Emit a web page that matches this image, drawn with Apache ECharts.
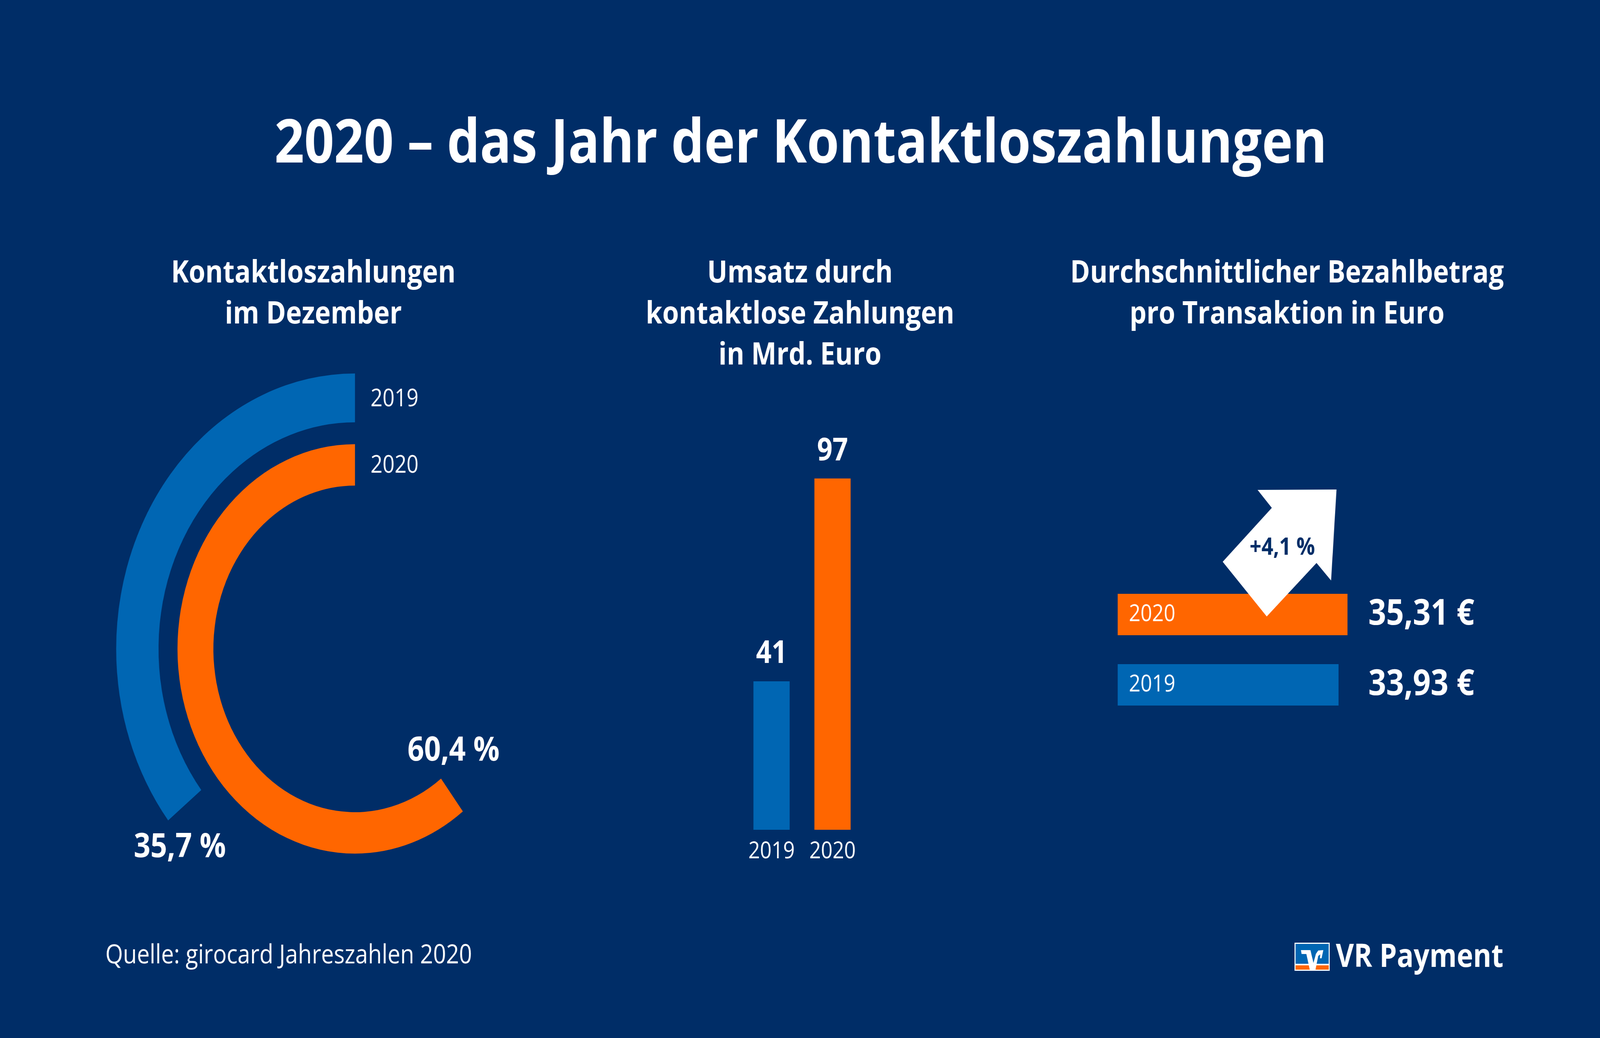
<!DOCTYPE html>
<html>
<head>
<meta charset="utf-8">
<script src="https://cdn.jsdelivr.net/npm/echarts@6/dist/echarts.min.js"></script>
<style>
html,body{margin:0;padding:0;background:#002d67;overflow:hidden;width:100%;height:100%;}
#c{width:4724px;height:2657px;transform-origin:0 0;}
</style>
</head>
<body>
<div id="c"></div>
<script>
// ---- data ----
const years = ['2019', '2020'];
const contactlessShare = [35.7, 60.4];      // % Kontaktloszahlungen im Dezember
const revenue = [41, 97];                   // Umsatz in Mrd. Euro
const avgAmount = [33.93, 35.31];           // Durchschnittlicher Betrag in Euro
const changePct = 4.1;                      // Veränderung in %

// ---- styles ----
const NAVY = '#002d67', BLUE = '#0066b3', ORANGE = '#ff6600', WHITE = '#ffffff';
const FONT = 'Open Sans';
const de = (v, d) => v.toFixed(d).replace('.', ',');
const yearColor = [BLUE, ORANGE];

// fit the 4724x2657 design into whatever viewport the browser gives
const el = document.getElementById('c');
el.style.transform = 'scale(' + (window.innerWidth / 4724) + ',' + (window.innerHeight / 2657) + ')';
const chart = echarts.init(el);

function txt(text, x, y, size, weight, align, fill) {
  return {
    type: 'text', z: 100, silent: true,
    style: {
      text: text, x: x, y: y, fill: fill || WHITE,
      fontFamily: FONT, fontSize: size, fontWeight: weight,
      textAlign: align, align: align,
      textVerticalAlign: 'middle', verticalAlign: 'middle',
      lineHeight: 105
    }
  };
}

const option = {
  backgroundColor: NAVY,
  animation: false,
  polar: [
    { center: [1048, 1661], radius: [580, 705] },
    { center: [1048, 1661], radius: [418, 524] }
  ],
  angleAxis: [
    { polarIndex: 0, min: 0, max: 100, startAngle: 90, clockwise: false, show: false },
    { polarIndex: 1, min: 0, max: 100, startAngle: 90, clockwise: false, show: false }
  ],
  radiusAxis: [
    { polarIndex: 0, type: 'category', data: [years[0]], show: false },
    { polarIndex: 1, type: 'category', data: [years[1]], show: false }
  ],
  grid: [
    { left: 2188, top: 1197, width: 360, height: 927 },
    { left: 3300, top: 1483, width: 711, height: 360 }
  ],
  xAxis: [
    { gridIndex: 0, type: 'category', data: years,
      axisLine: { show: false }, axisTick: { show: false }, splitLine: { show: false },
      axisLabel: { color: WHITE, fontFamily: FONT, fontSize: 60, margin: 26 } },
    { gridIndex: 1, type: 'value', min: 0, max: 37, show: false, splitLine: { show: false } }
  ],
  yAxis: [
    { gridIndex: 0, type: 'value', min: 0, max: 100, show: false, splitLine: { show: false } },
    { gridIndex: 1, type: 'category', data: years, show: false },
    { gridIndex: 1, type: 'category', position: 'right',
      data: avgAmount.map(v => de(v, 2) + ' €'),
      axisLine: { show: false }, axisTick: { show: false }, splitLine: { show: false },
      axisLabel: { color: WHITE, fontFamily: FONT, fontSize: 92, fontWeight: 'bold',
                   margin: 29, align: 'left', padding: [16, 0, 0, 0] } }
  ],
  series: [
    { type: 'bar', coordinateSystem: 'polar', polarIndex: 0, barWidth: '100%', silent: true,
      data: [contactlessShare[0]], itemStyle: { color: BLUE } },
    { type: 'bar', coordinateSystem: 'polar', polarIndex: 1, barWidth: '100%', silent: true,
      data: [contactlessShare[1]], itemStyle: { color: ORANGE } },
    { type: 'bar', xAxisIndex: 0, yAxisIndex: 0, barWidth: 107, silent: true,
      data: revenue.map((v, i) => ({ value: v, itemStyle: { color: yearColor[i] } })),
      label: { show: true, position: 'top', distance: 30, color: WHITE,
               fontFamily: FONT, fontSize: 80, fontWeight: 'bold' } },
    { type: 'bar', xAxisIndex: 1, yAxisIndex: 1, barWidth: 106, silent: true,
      data: avgAmount.map((v, i) => ({ value: v, itemStyle: { color: yearColor[i] } })),
      label: { show: true, position: 'insideLeft', distance: 33, color: WHITE,
               fontFamily: FONT, fontSize: 60, formatter: p => p.name } }
  ],
  graphic: [
    txt('2020 – das Jahr der Kontaktloszahlungen', 2364, 372, 154, 'bold', 'center'),
    txt('Kontaktloszahlungen\nim Dezember', 925, 753, 79, 'bold', 'center'),
    txt('Umsatz durch\nkontaktlose Zahlungen\nin Mrd. Euro', 2362, 805, 79, 'bold', 'center'),
    txt('Durchschnittlicher Bezahlbetrag\npro Transaktion in Euro', 3800, 753, 79, 'bold', 'center'),
    // radial labels
    txt(years[0], 1094, 1022, 62, 'normal', 'left'),
    txt(years[1], 1094, 1192, 62, 'normal', 'left'),
    txt(de(contactlessShare[0], 1) + ' %', 395, 2169, 86, 'bold', 'left'),
    txt(de(contactlessShare[1], 1) + ' %', 1203, 1922, 86, 'bold', 'left'),
    // arrow
    { type: 'polygon', z: 90, silent: true,
      shape: { points: [[3713,1254],[3946,1253],[3930,1486],[3887,1441],[3740,1578],[3610,1438],[3755,1300]] },
      style: { fill: WHITE } },
    txt('+' + de(changePct, 1) + ' %', 3786, 1403, 61, 'bold', 'center', NAVY),
    // source
    txt('Quelle: girocard Jahreszahlen 2020', 311, 2447, 67, 'normal', 'left'),
    // logo
    { type: 'rect', z: 90, silent: true, shape: { x: 3822, y: 2413, width: 104, height: 72 }, style: { fill: WHITE } },
    { type: 'rect', z: 91, silent: true, shape: { x: 3825, y: 2416, width: 98, height: 51 }, style: { fill: BLUE } },
    { type: 'rect', z: 91, silent: true, shape: { x: 3825, y: 2471, width: 98, height: 11 }, style: { fill: ORANGE } },
    { type: 'polygon', z: 92, silent: true,
      shape: { points: [[3841,2432],[3869,2432],[3878,2465],[3885,2442],[3892,2433],[3907,2432],[3902,2453],[3897,2453],[3898,2443],[3892,2447],[3884,2482],[3867,2482],[3857,2442],[3843,2442]] },
      style: { fill: WHITE } },
    txt('VR Payment', 3944, 2452, 82, 'bold', 'left')
  ]
};

chart.setOption(option);
</script>
</body>
</html>
